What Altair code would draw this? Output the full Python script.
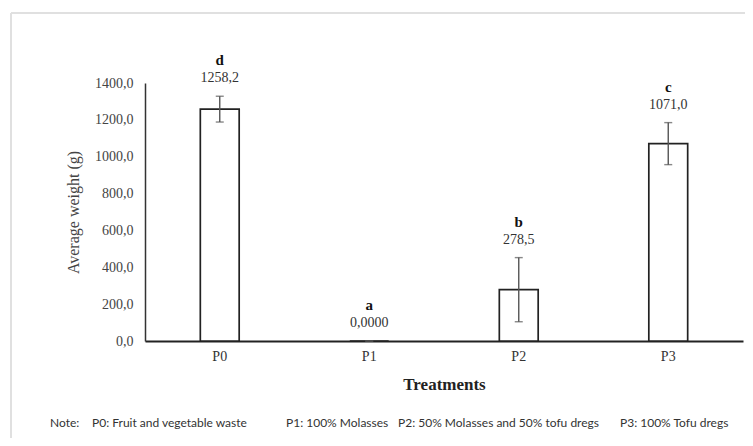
import altair as alt
import pandas as pd

treatments = ["P0", "P1", "P2", "P3"]
means = [1258.2, 0.0, 278.5, 1071.0]
sds = [70.0, 0.0, 174.0, 114.0]
value_labels = ["1258,2", "0,0000", "278,5", "1071,0"]
letters = ["d", "a", "b", "c"]
y_ticks = [0, 200, 400, 600, 800, 1000, 1200, 1400]
note_items = ["Note:", "P0: Fruit and vegetable waste", "P1: 100% Molasses",
              "P2: 50% Molasses and 50% tofu dregs", "P3: 100% Tofu dregs"]

df = pd.DataFrame({
    "t": treatments,
    "mean": means,
    "lo": [m - s for m, s in zip(means, sds)],
    "hi": [m + s for m, s in zip(means, sds)],
    "vlab": value_labels,
    "letter": letters,
})

W, H = 598, 258
SERIF = "Liberation Serif"

xscale = alt.Scale(domain=treatments, paddingInner=0.74, paddingOuter=0.37)
yscale = alt.Scale(domain=[0, 1400], nice=False)
yaxis = alt.Axis(title="Average weight (g)", values=y_ticks, tickCount=8,
                 ticks=False, grid=False, domainColor="#333", domainWidth=1.5,
                 labelOverlap=False,
                 labelExpr="replace(format(datum.value, '.1f'), '.', ',')",
                 labelFont=SERIF, labelFontSize=14, labelColor="#444",
                 labelPadding=12,
                 titleFont=SERIF, titleFontSize=16, titleColor="#444",
                 titleFontWeight="normal", titlePadding=13)

base = alt.Chart(df).encode(
    x=alt.X("t:N", scale=xscale, sort=treatments,
            axis=alt.Axis(title="Treatments", labelAngle=0, ticks=False,
                          domainColor="#222", domainWidth=2,
                          labelFont=SERIF, labelFontSize=14, labelColor="#333",
                          labelPadding=8,
                          titleFont=SERIF, titleFontSize=17, titleFontWeight="bold",
                          titleColor="#222", titlePadding=13))
)

bars = base.mark_bar(fill="white", stroke="#222", strokeWidth=1.7).encode(
    y=alt.Y("mean:Q", scale=yscale, axis=yaxis)
)

err = base.mark_rule(color="#555", strokeWidth=1.4).encode(
    y=alt.Y("lo:Q", scale=yscale, axis=yaxis), y2="hi:Q"
)
cap_hi = base.mark_tick(color="#555", thickness=1.4, size=8, orient="horizontal").encode(
    y=alt.Y("hi:Q", scale=yscale, axis=yaxis)
)
cap_lo = base.mark_tick(color="#555", thickness=1.4, size=8, orient="horizontal").encode(
    y=alt.Y("lo:Q", scale=yscale, axis=yaxis)
)

num_text = base.mark_text(font=SERIF, fontSize=14, color="#333", baseline="middle",
                          dy=-18).encode(
    y=alt.Y("hi:Q", scale=yscale, axis=yaxis), text="vlab:N"
)
let_text = base.mark_text(font=SERIF, fontSize=15, fontWeight="bold", color="#111",
                          baseline="middle", dy=-36).encode(
    y=alt.Y("hi:Q", scale=yscale, axis=yaxis), text="letter:N"
)

# outer light-gray frame (top and left edges visible)
frame_top = alt.Chart(df).mark_rule(color="#e0e0e0", strokeWidth=2).encode(
    x=alt.value(-134), x2=alt.value(W + 20), y=alt.value(-70)
)
frame_left = alt.Chart(df).mark_rule(color="#e0e0e0", strokeWidth=2).encode(
    x=alt.value(-134), y=alt.value(-70), y2=alt.value(H + 120)
)

note_x = [-95, -53, 141, 253, 475]
note_df = pd.DataFrame({"txt": note_items, "px": note_x})
notes = alt.Chart(note_df).mark_text(font="Lato", fontSize=12, color="#333",
                                     align="left", baseline="middle").encode(
    x=alt.X("px:Q", scale=None), y=alt.value(340), text="txt:N"
)

chart = alt.layer(bars, err, cap_hi, cap_lo, num_text, let_text, frame_top, frame_left, notes).properties(
    width=W, height=H,
    autosize=alt.AutoSizeParams(type="none"),
    padding={"left": 137, "top": 75, "right": 2, "bottom": 97},
).configure(
    background="white",
    view=alt.ViewConfig(stroke=None),
    axis=alt.AxisConfig(labelFont=SERIF, titleFont=SERIF),
)

chart.save("out.html", embed_options={"renderer": "svg", "actions": False})
